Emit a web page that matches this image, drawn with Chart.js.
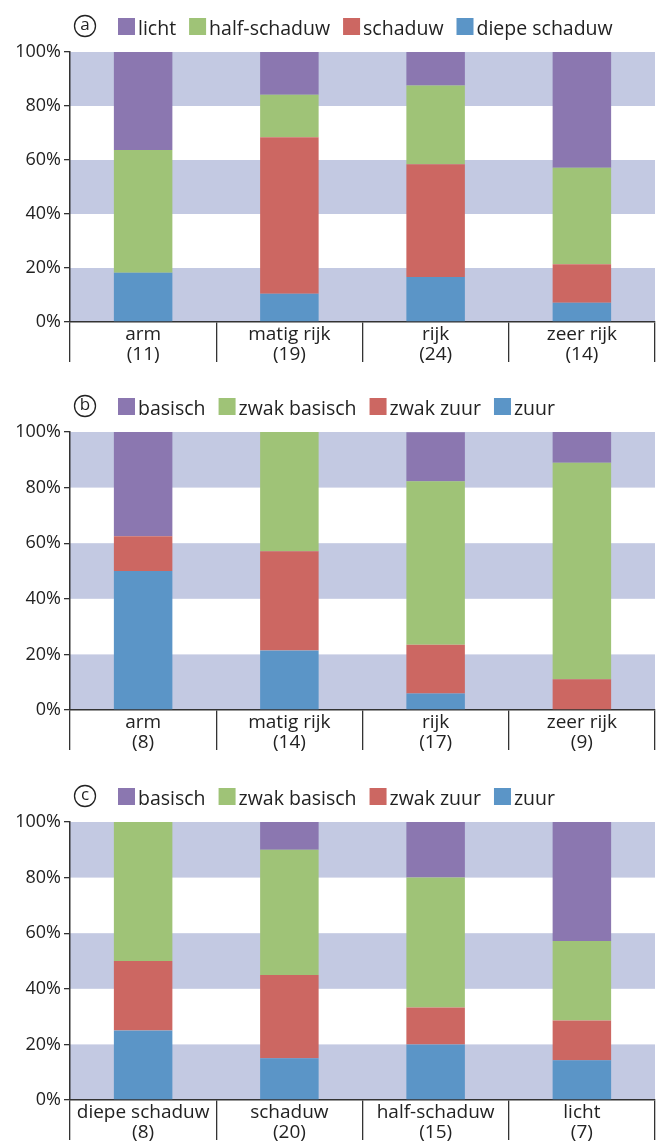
<!DOCTYPE html>
<html>
<head>
<meta charset="utf-8">
<script src="https://cdn.jsdelivr.net/npm/chart.js@4.4.1/dist/chart.umd.min.js"></script>
<style>
  body { margin: 0; background: #fff; width: 660px; }
  .vak { position: relative; width: 660px; }
</style>
</head>
<body>
<div class="vak" style="height:380px"><canvas id="grafiekA"></canvas></div>
<div class="vak" style="height:390px"><canvas id="grafiekB"></canvas></div>
<div class="vak" style="height:377px"><canvas id="grafiekC"></canvas></div>
<script>
  const paars = '#8b77b0', groen = '#9fc377', rood = '#cc6762', blauw = '#5b95c7';
  const band = '#c3c9e2';
  const lettertype = '"Open Sans", "DejaVu Sans", sans-serif';

  // a: voedselrijkdom tegen lichtklasse (percentages)
  const catA = [['arm', '(11)'], ['matig rijk', '(19)'], ['rijk', '(24)'], ['zeer rijk', '(14)']];
  const aDiepeSchaduw = [18.2, 10.5, 16.7, 7.1];
  const aSchaduw = [0, 57.9, 41.7, 14.3];
  const aHalfSchaduw = [45.5, 15.8, 29.2, 35.7];
  const aLicht = [36.4, 15.8, 12.5, 42.9];

  // b: voedselrijkdom tegen zuurgraad
  const catB = [['arm', '(8)'], ['matig rijk', '(14)'], ['rijk', '(17)'], ['zeer rijk', '(9)']];
  const bZuur = [50, 21.4, 5.9, 0];
  const bZwakZuur = [12.5, 35.7, 17.6, 11.1];
  const bZwakBasisch = [0, 42.9, 58.8, 77.8];
  const bBasisch = [37.5, 0, 17.6, 11.1];

  // c: lichtklasse tegen zuurgraad
  const catC = [['diepe schaduw', '(8)'], ['schaduw', '(20)'], ['half-schaduw', '(15)'], ['licht', '(7)']];
  const cZuur = [25, 15, 20, 14.3];
  const cZwakZuur = [25, 30, 13.3, 14.3];
  const cZwakBasisch = [50, 45, 46.7, 28.6];
  const cBasisch = [0, 10, 20, 42.9];

  const yTicks = [0, 20, 40, 60, 80, 100];

  // horizontale banden achter de staven
  const banden = {
    id: 'banden',
    beforeDraw(chart) {
      const { ctx, chartArea: ca, scales: { y } } = chart;
      ctx.save();
      ctx.fillStyle = band;
      [[0, 20], [40, 60], [80, 100]].forEach(([van, tot]) => {
        const y1 = y.getPixelForValue(tot), y2 = y.getPixelForValue(van);
        ctx.fillRect(ca.left, y1, ca.right - ca.left, y2 - y1);
      });
      ctx.restore();
    }
  };

  // eigen legenda met letter in cirkel
  const legenda = {
    id: 'legenda',
    afterDraw(chart, args, opts) {
      const { ctx } = chart;
      ctx.save();
      ctx.strokeStyle = '#222';
      ctx.lineWidth = 1.3;
      ctx.beginPath();
      ctx.arc(85, 26, 10.5, 0, Math.PI * 2);
      ctx.stroke();
      ctx.fillStyle = '#222';
      ctx.font = '17px ' + lettertype;
      ctx.textAlign = 'center';
      ctx.textBaseline = 'middle';
      ctx.fillText(opts.letter, 85, 25);

      ctx.font = '19.5px ' + lettertype;
      ctx.textAlign = 'left';
      ctx.textBaseline = 'alphabetic';
      let x = 118;
      chart.data.datasets.slice().reverse().forEach(ds => {
        ctx.fillStyle = ds.backgroundColor;
        ctx.fillRect(x, 18, 17, 17);
        ctx.fillStyle = '#222';
        ctx.fillText(ds.label, x + 20, 35);
        x += 20 + ctx.measureText(ds.label).width + 13;
      });
      ctx.restore();
    }
  };

  function maakGrafiek(id, letter, labels, reeksen, asHoogte) {
    new Chart(document.getElementById(id), {
      type: 'bar',
      data: {
        labels: labels,
        datasets: reeksen.map(([naam, waarden, kleur]) => ({
          label: naam,
          data: waarden,
          backgroundColor: kleur,
          borderWidth: 0,
          barPercentage: 0.4,
          categoryPercentage: 1.0
        }))
      },
      options: {
        responsive: true,
        maintainAspectRatio: false,
        animation: false,
        layout: { padding: { top: 52, right: 5, left: 0, bottom: 0 } },
        plugins: {
          legend: { display: false },
          tooltip: { enabled: false },
          legenda: { letter: letter }
        },
        scales: {
          x: {
            stacked: true,
            offset: true,
            afterFit: s => { s.height = asHoogte; },
            grid: { drawOnChartArea: false, drawTicks: true, tickLength: 40, color: '#333', lineWidth: 1.3, offset: true },
            border: { display: true, color: '#333', width: 1.5 },
            ticks: { font: { family: lettertype, size: 19, lineHeight: 1.05 }, color: '#222', padding: -37, maxRotation: 0, autoSkip: false }
          },
          y: {
            stacked: true,
            min: 0,
            max: 100,
            afterFit: s => { s.width = 70; },
            afterBuildTicks: s => { s.ticks = yTicks.map(v => ({ value: v })); },
            grid: { drawOnChartArea: false, drawTicks: true, tickLength: 6, color: '#333', lineWidth: 1.3 },
            border: { display: true, color: '#333', width: 1.5 },
            ticks: { font: { family: lettertype, size: 18 }, color: '#222', padding: 3, callback: v => v + '%' }
          }
        }
      },
      plugins: [banden, legenda]
    });
  }

  maakGrafiek('grafiekA', 'a', catA, [
    ['diepe schaduw', aDiepeSchaduw, blauw],
    ['schaduw', aSchaduw, rood],
    ['half-schaduw', aHalfSchaduw, groen],
    ['licht', aLicht, paars]
  ], 58);

  maakGrafiek('grafiekB', 'b', catB, [
    ['zuur', bZuur, blauw],
    ['zwak zuur', bZwakZuur, rood],
    ['zwak basisch', bZwakBasisch, groen],
    ['basisch', bBasisch, paars]
  ], 60);

  maakGrafiek('grafiekC', 'c', catC, [
    ['zuur', cZuur, blauw],
    ['zwak zuur', cZwakZuur, rood],
    ['zwak basisch', cZwakBasisch, groen],
    ['basisch', cBasisch, paars]
  ], 47);
</script>
</body>
</html>
